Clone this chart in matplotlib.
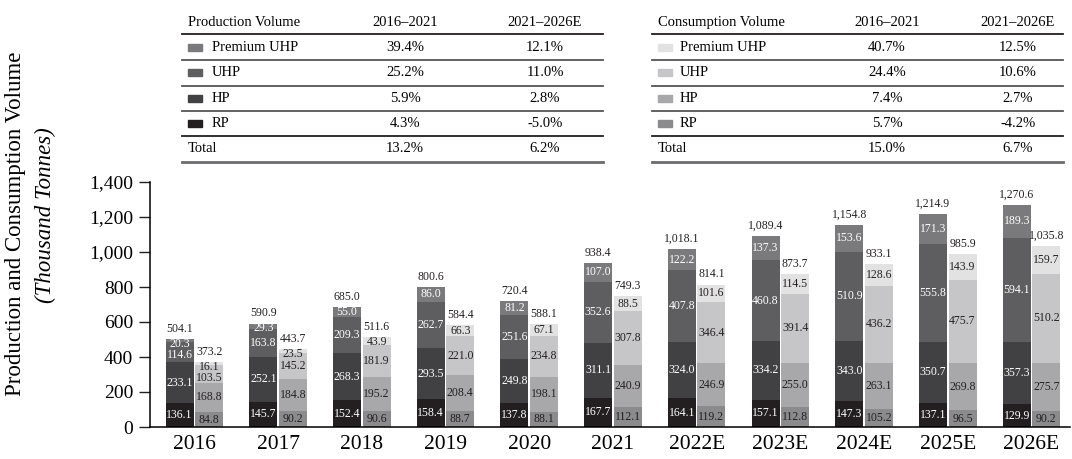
import numpy as np
import matplotlib.pyplot as plt
from matplotlib.patches import Rectangle
from matplotlib.lines import Line2D

plt.rcParams['font.family'] = ['Liberation Serif', 'DejaVu Serif']

years = ['2016', '2017', '2018', '2019', '2020', '2021',
         '2022E', '2023E', '2024E', '2025E', '2026E']
segments = ['RP', 'HP', 'UHP', 'Premium UHP']

# production volume, thousand tonnes
prod_rp = [136.1, 145.7, 152.4, 158.4, 137.8, 167.7, 164.1, 157.1, 147.3, 137.1, 129.9]
prod_hp = [233.1, 252.1, 268.3, 293.5, 249.8, 311.1, 324.0, 334.2, 343.0, 350.7, 357.3]
prod_uhp = [114.6, 163.8, 209.3, 262.7, 251.6, 352.6, 407.8, 460.8, 510.9, 555.8, 594.1]
prod_puhp = [20.3, 29.3, 55.0, 86.0, 81.2, 107.0, 122.2, 137.3, 153.6, 171.3, 189.3]

# consumption volume, thousand tonnes
cons_rp = [84.8, 90.2, 90.6, 88.7, 88.1, 112.1, 119.2, 112.8, 105.2, 96.5, 90.2]
cons_hp = [168.8, 184.8, 195.2, 208.4, 198.1, 240.9, 246.9, 255.0, 263.1, 269.8, 275.7]
cons_uhp = [103.5, 145.2, 181.9, 221.0, 234.8, 307.8, 346.4, 391.4, 436.2, 475.7, 510.2]
cons_puhp = [16.1, 23.5, 43.9, 66.3, 67.1, 88.5, 101.6, 114.5, 128.6, 143.9, 159.7]

# CAGR tables (order: Premium UHP, UHP, HP, RP, Total)
table_rows = ['Premium UHP', 'UHP', 'HP', 'RP', 'Total']
prod_cagr_16_21 = ['39.4%', '25.2%', '5.9%', '4.3%', '13.2%']
prod_cagr_21_26 = ['12.1%', '11.0%', '2.8%', '-5.0%', '6.2%']
cons_cagr_16_21 = ['40.7%', '24.4%', '7.4%', '5.7%', '15.0%']
cons_cagr_21_26 = ['12.5%', '10.6%', '2.7%', '-4.2%', '6.7%']

prod_colors = ['#231f20', '#414042', '#5e5e60', '#7a7a7c']
cons_colors = ['#8b8b8d', '#a8a8aa', '#c6c6c8', '#e2e2e3']

W, H = 1072, 459
fig = plt.figure(figsize=(W / 100, H / 100), dpi=100)
ax = fig.add_axes([150 / W, 1 - 427 / H, 920 / W, 245 / H])

x = np.arange(len(years))
bw = 0.335
gap = 0.018

prod = [prod_rp, prod_hp, prod_uhp, prod_puhp]
cons = [cons_rp, cons_hp, cons_uhp, cons_puhp]

def draw_stack(xpos, data, colors, txtcolor):
    arr = np.array(data)
    bottoms = np.vstack([np.zeros(arr.shape[1]), np.cumsum(arr, axis=0)[:-1]])
    for vals, b, c in zip(arr, bottoms, colors):
        ax.bar(xpos, vals, bw, bottom=b, color=c, edgecolor='none')
    totals = arr.sum(axis=0)
    for j, xi in enumerate(xpos):
        # labels placed from top down so thin segments do not collide
        prev = totals[j] + 100
        for k in range(arr.shape[0] - 1, -1, -1):
            v = arr[k, j]
            top = bottoms[k, j] + v
            y = min(bottoms[k, j] + v / 2, top - 28, prev - 65)
            ax.text(xi, y, f'{v:,.1f}', ha='center', va='center',
                    fontsize=8.5, color=txtcolor)
            prev = y
        ax.annotate(f'{totals[j]:,.1f}', (xi, totals[j]), xytext=(0, 3),
                    textcoords='offset points', ha='center', va='bottom',
                    fontsize=8.5, color='#231f20')

draw_stack(x - bw / 2 - gap / 2, prod, prod_colors, 'white')
draw_stack(x + bw / 2 + gap / 2, cons, cons_colors, '#231f20')

ax.set_xlim(-0.53, 10.46)
ax.set_ylim(0, 1400)
ax.set_yticks(range(0, 1401, 200))
ax.set_yticklabels([f'{v:,}' for v in range(0, 1401, 200)])
ax.set_xticks(x)
ax.set_xticklabels(years)
ax.tick_params(axis='y', length=8, width=1, pad=4, labelsize=14, color='#231f20')
ax.tick_params(axis='x', length=0, pad=6, labelsize=15.5)
for s in ['top', 'right']:
    ax.spines[s].set_visible(False)
ax.spines['left'].set_linewidth(1.1)
ax.spines['bottom'].set_linewidth(1.1)

fig.text(16 / W, 1 - 224 / H, 'Production and Consumption Volume', rotation=90,
         ha='center', va='center', fontsize=16.5)
fig.text(45 / W, 1 - 215 / H, '(Thousand Tonnes)', rotation=90, style='italic',
         ha='center', va='center', fontsize=16.5)

# tables
def fx(px):
    return px / W

def fy(py):
    return 1 - py / H

def draw_table(x0, x1, title, col1, col2, colors, c1x, c2x, textx):
    fs = 10.5
    fig.text(fx(x0 + 6), fy(22.7), title, ha='left', va='center', fontsize=fs)
    fig.text(fx(c1x), fy(22.7), '2016–2021', ha='center', va='center', fontsize=fs)
    fig.text(fx(c2x), fy(22.7), '2021–2026E', ha='center', va='center', fontsize=fs)
    row_y = [47.3, 72.7, 98.3, 123.3, 149]
    line_y = [34.3, 60, 85.7, 111, 136.3, 162.3]
    line_c = ['#231f20', '#555557', '#555557', '#555557', '#231f20', '#6d6d6f']
    line_w = [1.3, 1.3, 1.3, 1.3, 1.3, 2]
    for ly, lc, lw in zip(line_y, line_c, line_w):
        fig.add_artist(Line2D([fx(x0), fx(x1)], [fy(ly), fy(ly)], color=lc, lw=lw))
    sw_colors = colors[::-1]
    for i, (name, a, b) in enumerate(zip(table_rows, col1, col2)):
        if name == 'Total':
            fig.text(fx(x0 + 6), fy(row_y[i]), name, ha='left', va='center', fontsize=fs)
        else:
            fig.add_artist(Rectangle((fx(x0 + 6), fy(row_y[i] + 3.5)), 14 / W, 7 / H,
                                     color=sw_colors[i], transform=fig.transFigure))
            fig.text(fx(textx), fy(row_y[i]), name, ha='left', va='center', fontsize=fs)
        fig.text(fx(c1x), fy(row_y[i]), a, ha='center', va='center', fontsize=fs)
        fig.text(fx(c2x), fy(row_y[i]), b, ha='center', va='center', fontsize=fs)

draw_table(182, 603, 'Production Volume', prod_cagr_16_21, prod_cagr_21_26,
           prod_colors, 405, 545, 212)
draw_table(652, 1063, 'Consumption Volume', cons_cagr_16_21, cons_cagr_21_26,
           cons_colors, 887, 1018, 680)

fig.savefig('out.png', dpi=100)
